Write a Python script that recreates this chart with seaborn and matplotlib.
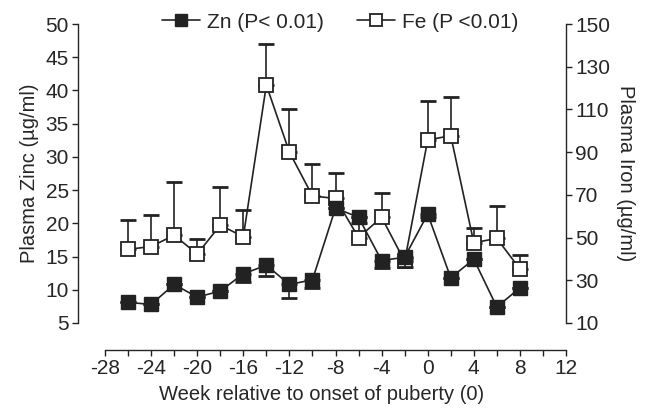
import matplotlib
matplotlib.use("Agg")
import matplotlib.pyplot as plt
import seaborn as sns
import numpy as np
import pandas as pd
from matplotlib.ticker import FixedLocator

weeks = [-26, -24, -22, -20, -18, -16, -14, -12, -10, -8, -6, -4, -2, 0, 2, 4, 6, 8]
zinc = [8.1, 7.8, 10.8, 8.9, 9.8, 12.4, 13.7, 10.8, 11.5, 22.3, 20.9, 14.4, 14.9, 21.4, 11.8, 14.6, 7.4, 10.3]
zinc_err = [0, 0, 0, 0, 0, 1.2, 1.6, 2.0, 1.3, 0, 0, 1.1, 1.4, 0.4, 0, 0, 0, 0]
iron = [44.5, 45.8, 51.1, 42.3, 55.8, 50.4, 121.4, 90.0, 69.5, 68.3, 50.0, 59.5, 38.9, 95.7, 97.7, 47.6, 49.6, 35.3]
iron_err = [13.6, 14.9, 24.9, 7.1, 17.9, 12.5, 19.2, 20.2, 14.8, 11.8, 6.8, 11.4, 1.5, 18.4, 18.1, 6.7, 15.4, 6.6]

x_ticks = [-28, -24, -20, -16, -12, -8, -4, 0, 4, 8, 12]
x_minor = [-26, -22, -18, -14, -10, -6, -2, 2, 6, 10]
zn_ticks = [5, 10, 15, 20, 25, 30, 35, 40, 45, 50]
fe_ticks = [10, 30, 50, 70, 90, 110, 130, 150]

df = pd.DataFrame({"week": weeks, "zinc": zinc, "iron": iron})

sns.set_style("ticks")
plt.rcParams["font.family"] = ["Liberation Sans", "DejaVu Sans"]
plt.rcParams["axes.linewidth"] = 1.0

TICK_FS = 15
LAB_FS = 14.5
INK = "#222222"

fig = plt.figure(figsize=(6.51, 4.12), dpi=100)
ax = fig.add_axes([78 / 651, 1 - 323 / 412, (566 - 78) / 651, (323 - 24) / 412])
ax2 = ax.twinx()

# Fe on right axis
ax2.errorbar(weeks, iron, yerr=[np.zeros(len(iron_err)), iron_err], fmt="none",
             ecolor=INK, elinewidth=1.2, capsize=5.5, capthick=2, zorder=1)
sns.lineplot(data=df, x="week", y="iron", ax=ax2, color=INK, linewidth=1.2,
             marker="s", markersize=10.5, markerfacecolor="white",
             markeredgecolor=INK, markeredgewidth=1.3, label="Fe (P <0.01)",
             legend=False, zorder=2)

# Zn on left axis
ax.errorbar(weeks, zinc, yerr=[zinc_err, np.zeros(len(zinc_err))], fmt="none",
            ecolor=INK, elinewidth=1.2, capsize=5.5, capthick=2, zorder=1)
sns.lineplot(data=df, x="week", y="zinc", ax=ax, color=INK, linewidth=1.2,
             marker="s", markersize=10.5, markerfacecolor=INK,
             markeredgecolor=INK, markeredgewidth=1.0, label="Zn (P< 0.01)",
             legend=False, zorder=2)

ax.set_zorder(ax2.get_zorder() + 1)
ax.patch.set_visible(False)

left_x = -28 - 27 / ((566 - 105) / 40)
ax.set_xlim(left_x, 12)
ax.set_ylim(5, 50)
ax2.set_ylim(10, 150)

ax.set_xticks(x_ticks)
ax.set_xticklabels([str(t) for t in x_ticks])
ax.xaxis.set_minor_locator(FixedLocator(x_minor))
ax.set_yticks(zn_ticks)
ax.set_yticklabels([str(t) for t in zn_ticks])
ax2.set_yticks(fe_ticks)
ax2.set_yticklabels([str(t) for t in fe_ticks])

for a in (ax, ax2):
    a.spines["top"].set_visible(False)
ax.spines["right"].set_visible(False)
ax2.spines["left"].set_visible(False)
ax2.spines["bottom"].set_visible(False)
ax.spines["bottom"].set_position(("outward", 19.5))
ax.spines["bottom"].set_bounds(-28, 12)
ax.spines["left"].set_bounds(5, 50)
ax2.spines["right"].set_bounds(10, 150)

ax.tick_params(axis="both", which="major", length=4, width=1, labelsize=TICK_FS, color=INK, pad=2.5)
ax.tick_params(axis="x", which="minor", length=4, width=1, color=INK)
ax2.tick_params(axis="y", which="major", length=4, width=1, labelsize=TICK_FS, color=INK, pad=2.5)

ax.set_xlabel("Week relative to onset of puberty (0)", fontsize=LAB_FS, labelpad=5)
ax.set_ylabel("Plasma Zinc (µg/ml)", fontsize=LAB_FS, labelpad=5)
ax2.set_ylabel("Plasma Iron (µg/ml)", fontsize=LAB_FS, rotation=270, labelpad=18)

h1, l1 = ax.get_legend_handles_labels()
h2, l2 = ax2.get_legend_handles_labels()
fig.legend(h1 + h2, l1 + l2, loc="upper center", bbox_to_anchor=(0.523, 1.015), ncol=2,
           frameon=False, fontsize=TICK_FS, handlelength=1.8, columnspacing=1.6,
           handletextpad=0.35, markerscale=0.8)

fig.savefig("out.png", dpi=100)
